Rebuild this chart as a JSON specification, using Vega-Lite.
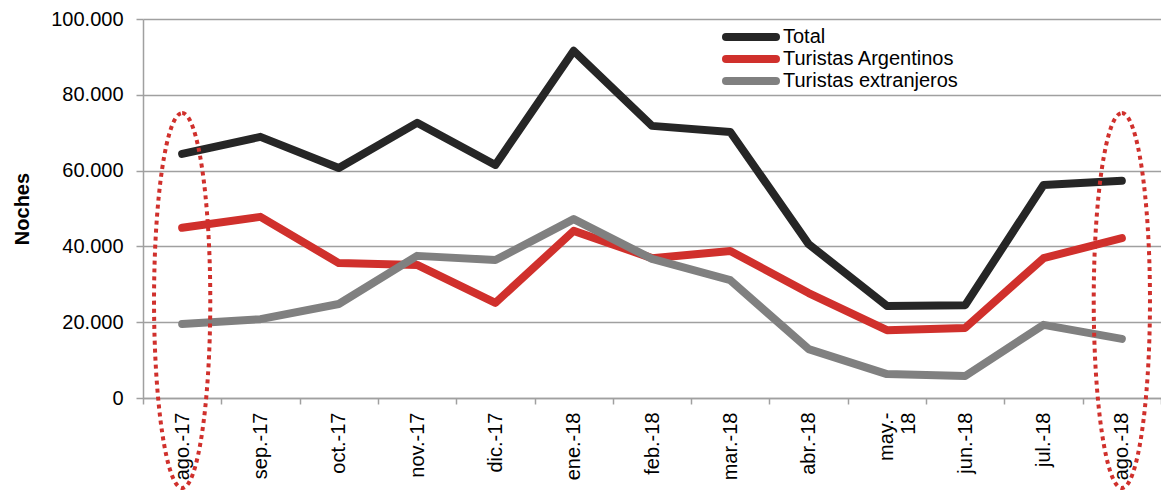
{
  "$schema": "https://vega.github.io/schema/vega-lite/v6.json",
  "width": 1018,
  "height": 379,
  "autosize": {"type": "none"},
  "padding": {"left": 143, "top": 19, "right": 0, "bottom": 92},
  "background": "white",
  "config": {"view": {"stroke": null}, "font": "Liberation Sans"},
  "datasets": {
    "series": [
      {"mes": "ago.-17", "serie": "Total", "valor": 64400},
      {"mes": "sep.-17", "serie": "Total", "valor": 68900},
      {"mes": "oct.-17", "serie": "Total", "valor": 60700},
      {"mes": "nov.-17", "serie": "Total", "valor": 72600},
      {"mes": "dic.-17", "serie": "Total", "valor": 61500},
      {"mes": "ene.-18", "serie": "Total", "valor": 91600},
      {"mes": "feb.-18", "serie": "Total", "valor": 71800},
      {"mes": "mar.-18", "serie": "Total", "valor": 70200},
      {"mes": "abr.-18", "serie": "Total", "valor": 40600},
      {"mes": "may.-18", "serie": "Total", "valor": 24300},
      {"mes": "jun.-18", "serie": "Total", "valor": 24500},
      {"mes": "jul.-18", "serie": "Total", "valor": 56200},
      {"mes": "ago.-18", "serie": "Total", "valor": 57300},
      {"mes": "ago.-17", "serie": "Turistas Argentinos", "valor": 44900},
      {"mes": "sep.-17", "serie": "Turistas Argentinos", "valor": 47800},
      {"mes": "oct.-17", "serie": "Turistas Argentinos", "valor": 35600},
      {"mes": "nov.-17", "serie": "Turistas Argentinos", "valor": 35100},
      {"mes": "dic.-17", "serie": "Turistas Argentinos", "valor": 25100},
      {"mes": "ene.-18", "serie": "Turistas Argentinos", "valor": 44100},
      {"mes": "feb.-18", "serie": "Turistas Argentinos", "valor": 36900},
      {"mes": "mar.-18", "serie": "Turistas Argentinos", "valor": 38800},
      {"mes": "abr.-18", "serie": "Turistas Argentinos", "valor": 27700},
      {"mes": "may.-18", "serie": "Turistas Argentinos", "valor": 17900},
      {"mes": "jun.-18", "serie": "Turistas Argentinos", "valor": 18500},
      {"mes": "jul.-18", "serie": "Turistas Argentinos", "valor": 36900},
      {"mes": "ago.-18", "serie": "Turistas Argentinos", "valor": 42200},
      {"mes": "ago.-17", "serie": "Turistas extranjeros", "valor": 19500},
      {"mes": "sep.-17", "serie": "Turistas extranjeros", "valor": 20800},
      {"mes": "oct.-17", "serie": "Turistas extranjeros", "valor": 24800},
      {"mes": "nov.-17", "serie": "Turistas extranjeros", "valor": 37500},
      {"mes": "dic.-17", "serie": "Turistas extranjeros", "valor": 36400},
      {"mes": "ene.-18", "serie": "Turistas extranjeros", "valor": 47200},
      {"mes": "feb.-18", "serie": "Turistas extranjeros", "valor": 36700},
      {"mes": "mar.-18", "serie": "Turistas extranjeros", "valor": 31100},
      {"mes": "abr.-18", "serie": "Turistas extranjeros", "valor": 12900},
      {"mes": "may.-18", "serie": "Turistas extranjeros", "valor": 6300},
      {"mes": "jun.-18", "serie": "Turistas extranjeros", "valor": 5800},
      {"mes": "jul.-18", "serie": "Turistas extranjeros", "valor": 19300},
      {"mes": "ago.-18", "serie": "Turistas extranjeros", "valor": 15600}
    ],
    "marcas": [
      {"mes": "ago.-17"},
      {"mes": "ago.-18"}
    ]
  },
  "layer": [
    {
      "data": {"name": "series"},
      "mark": {"type": "line", "strokeWidth": 8, "strokeCap": "round", "strokeJoin": "round"},
      "encoding": {
        "x": {
          "field": "mes",
          "type": "nominal",
          "scale": {"domain": ["ago.-17", "sep.-17", "oct.-17", "nov.-17", "dic.-17", "ene.-18", "feb.-18", "mar.-18", "abr.-18", "may.-18", "jun.-18", "jul.-18", "ago.-18"], "paddingInner": 0, "paddingOuter": 0},
          "axis": {
            "title": null,
            "labelAngle": -90,
            "labelAlign": "right",
            "labelBaseline": "middle",
            "labelFontSize": 20,
            "labelColor": "black",
            "labelFont": "Liberation Sans",
            "tickBand": "extent",
            "tickSize": 6,
            "tickWidth": 1.5,
            "tickColor": "#a0a0a0",
            "domainColor": "#a0a0a0",
            "domainWidth": 1.5,
            "labelPadding": 8,
            "grid": false,
            "labelExpr": "datum.value == 'may.-18' ? ['may.-', '18'] : datum.value",
            "labelLineHeight": 22
          }
        },
        "y": {
          "field": "valor",
          "type": "quantitative",
          "scale": {"domain": [0, 100000], "nice": false},
          "axis": {
            "title": "Noches",
            "titleFontSize": 20,
            "titleFontWeight": "bold",
            "titleColor": "black",
            "titleFont": "Liberation Sans",
            "titlePadding": 18,
            "values": [0, 20000, 40000, 60000, 80000, 100000],
            "labelExpr": "replace(format(datum.value, ','), ',', '.')",
            "labelFontSize": 20,
            "labelColor": "black",
            "labelFont": "Liberation Sans",
            "labelPadding": 13,
            "tickSize": 7,
            "tickWidth": 1.5,
            "tickColor": "#a0a0a0",
            "domainColor": "#a0a0a0",
            "domainWidth": 1.5,
            "grid": true,
            "gridColor": "#a0a0a0",
            "gridWidth": 1.5
          }
        },
        "color": {
          "field": "serie",
          "type": "nominal",
          "scale": {"domain": ["Total", "Turistas Argentinos", "Turistas extranjeros"], "range": ["#262626", "#d0302c", "#808080"]},
          "legend": {
            "orient": "none",
            "legendX": 598,
            "legendY": 8,
            "title": null,
            "symbolType": "M-5,0L5,0",
            "symbolSize": 100,
            "symbolStrokeWidth": 8,
            "labelFontSize": 20,
            "labelFont": "Liberation Sans",
            "labelColor": "black",
            "labelLimit": 400,
            "rowPadding": 2,
            "labelOffset": 22,
            "padding": 0,
            "encode": {"symbols": {"update": {"strokeCap": {"value": "round"}, "strokeJoin": {"value": "round"}}}}
          }
        }
      }
    },
    {
      "data": {"name": "marcas"},
      "mark": {
        "type": "point",
        "shape": "M0,-1 C0.0828,-1 0.15,-0.5523 0.15,0 C0.15,0.5523 0.0828,1 0,1 C-0.0828,1 -0.15,0.5523 -0.15,0 C-0.15,-0.5523 -0.0828,-1 0,-1 Z",
        "size": 140625,
        "filled": false,
        "stroke": "#d0302c",
        "strokeWidth": 4,
        "strokeDash": [4, 4],
        "opacity": 1
      },
      "encoding": {
        "x": {"field": "mes", "type": "nominal"},
        "y": {"datum": 25700}
      }
    }
  ]
}
